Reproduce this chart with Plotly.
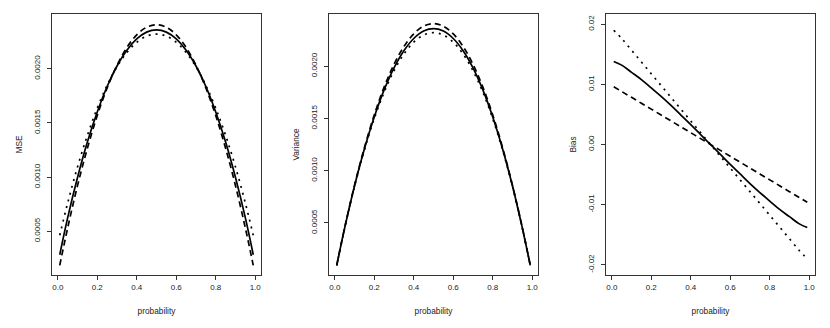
import plotly.graph_objects as go
from plotly.subplots import make_subplots

# values
probability = [0.01, 0.05, 0.10, 0.15, 0.20, 0.25, 0.30, 0.35, 0.40, 0.45, 0.50,
               0.55, 0.60, 0.65, 0.70, 0.75, 0.80, 0.85, 0.90, 0.95, 0.99]

mse_solid = [0.000284, 0.000624, 0.000997, 0.001324, 0.001601, 0.001836, 0.002025,
             0.002171, 0.002275, 0.002338, 0.002358, 0.002338, 0.002275, 0.002171,
             0.002025, 0.001836, 0.001601, 0.001324, 0.000997, 0.000624, 0.000284]
mse_dashed = [0.000186, 0.000530, 0.000921, 0.001266, 0.001568, 0.001823, 0.002032,
              0.002196, 0.002313, 0.002383, 0.002406, 0.002383, 0.002313, 0.002196,
              0.002032, 0.001823, 0.001568, 0.001266, 0.000921, 0.000530, 0.000186]
mse_dotted = [0.000463, 0.000760, 0.001094, 0.001385, 0.001636, 0.001846, 0.002018,
              0.002150, 0.002244, 0.002301, 0.002320, 0.002301, 0.002244, 0.002150,
              0.002018, 0.001846, 0.001636, 0.001385, 0.001094, 0.000760, 0.000463]

var_solid = [0.000094, 0.000450, 0.000853, 0.001207, 0.001513, 0.001772, 0.001983,
             0.002147, 0.002264, 0.002335, 0.002358, 0.002335, 0.002264, 0.002147,
             0.001983, 0.001772, 0.001513, 0.001207, 0.000853, 0.000450, 0.000094]
var_dashed = [0.000094, 0.000452, 0.000859, 0.001219, 0.001533, 0.001799, 0.002017,
              0.002187, 0.002309, 0.002382, 0.002406, 0.002382, 0.002309, 0.002187,
              0.002017, 0.001799, 0.001533, 0.001219, 0.000859, 0.000452, 0.000094]
var_dotted = [0.000094, 0.000449, 0.000848, 0.001197, 0.001498, 0.001750, 0.001956,
              0.002115, 0.002229, 0.002297, 0.002320, 0.002297, 0.002229, 0.002115,
              0.001956, 0.001750, 0.001498, 0.001197, 0.000848, 0.000449, 0.000094]

bias_solid = [0.0138, 0.0132, 0.0120, 0.0108, 0.0094, 0.0080, 0.0065, 0.0049, 0.0033,
              0.00165, 0.0, -0.00165, -0.0033, -0.0049, -0.0065, -0.0080, -0.0094,
              -0.0108, -0.0120, -0.0132, -0.0138]
bias_dashed = [0.0096, 0.00882, 0.00784, 0.00686, 0.00588, 0.0049, 0.00392, 0.00294,
               0.00196, 0.00098, 0.0, -0.00098, -0.00196, -0.00294, -0.00392, -0.0049,
               -0.00588, -0.00686, -0.00784, -0.00882, -0.0096]
bias_dotted = [0.0190, 0.01764, 0.01568, 0.01372, 0.01176, 0.0098, 0.00784, 0.00588,
               0.00392, 0.00196, 0.0, -0.00196, -0.00392, -0.00588, -0.00784, -0.0098,
               -0.01176, -0.01372, -0.01568, -0.01764, -0.0190]

x_ticks = [0.0, 0.2, 0.4, 0.6, 0.8, 1.0]
x_ticktext = ["0.0", "0.2", "0.4", "0.6", "0.8", "1.0"]
mse_ticks = [0.0005, 0.0010, 0.0015, 0.0020]
mse_ticktext = ["0.0005", "0.0010", "0.0015", "0.0020"]
bias_ticks = [-0.02, -0.01, 0.0, 0.01, 0.02]
bias_ticktext = ["-0.02", "-0.01", "0.00", "0.01", "0.02"]

panels = [
    ("MSE", [mse_solid, mse_dashed, mse_dotted], [0.0000968, 0.002505], mse_ticks, mse_ticktext),
    ("Variance", [var_solid, var_dashed, var_dotted], [0.0000015, 0.0024985], mse_ticks, mse_ticktext),
    ("Bias", [bias_solid, bias_dashed, bias_dotted], [-0.0217, 0.0217], bias_ticks, bias_ticktext),
]
styles = ["solid", "6px,4px", "2px,5px"]

# the page body adds an 8px margin, so the figure is 8px smaller and
# every panel position below is given relative to that offset
W, H, OFF = 822, 320, 8

fig = make_subplots(rows=1, cols=3)

for i, (label, series, yrange, yticks, yticktext) in enumerate(panels):
    for values, dash in zip(series, styles):
        fig.add_trace(
            go.Scatter(
                x=probability,
                y=values,
                mode="lines",
                line=dict(color="black", width=1.7, dash=dash, shape="spline"),
                hoverinfo="skip"
            ),
            row=1, col=i + 1
        )

axis_common = dict(
    showline=True, linecolor="#333", linewidth=1, mirror=True,
    ticks="outside", ticklen=4, tickcolor="#333", tickwidth=1,
    showgrid=False, zeroline=False,
    tickfont=dict(size=8, color="#222"),
    title_font=dict(size=8.3, color="#222"),
)

box_left = [52, 329, 606]
box_right = [261, 538, 815]
x_domains = [[(l - OFF) / W, (r - OFF) / W] for l, r in zip(box_left, box_right)]
y_domain = [1 - (275 - OFF) / H, 1 - (14 - OFF) / H]

for i, (label, series, yrange, yticks, yticktext) in enumerate(panels):
    fig.update_xaxes(
        domain=x_domains[i], range=[-0.0292, 1.0292],
        tickvals=x_ticks, ticktext=x_ticktext,
        title_text="probability", title_standoff=17,
        **axis_common, row=1, col=i + 1
    )
    fig.update_yaxes(
        domain=y_domain, range=yrange,
        tickvals=yticks, ticktext=yticktext, tickangle=-90,
        ticklabelstandoff=4,
        title_text=label, title_standoff=8,
        **axis_common, row=1, col=i + 1
    )

fig.update_layout(
    width=W, height=H,
    margin=dict(l=0, r=0, t=0, b=0),
    paper_bgcolor="white", plot_bgcolor="white",
    font=dict(family="Liberation Sans, Arial, sans-serif"),
    showlegend=False
)

fig.write_html("out.html")
